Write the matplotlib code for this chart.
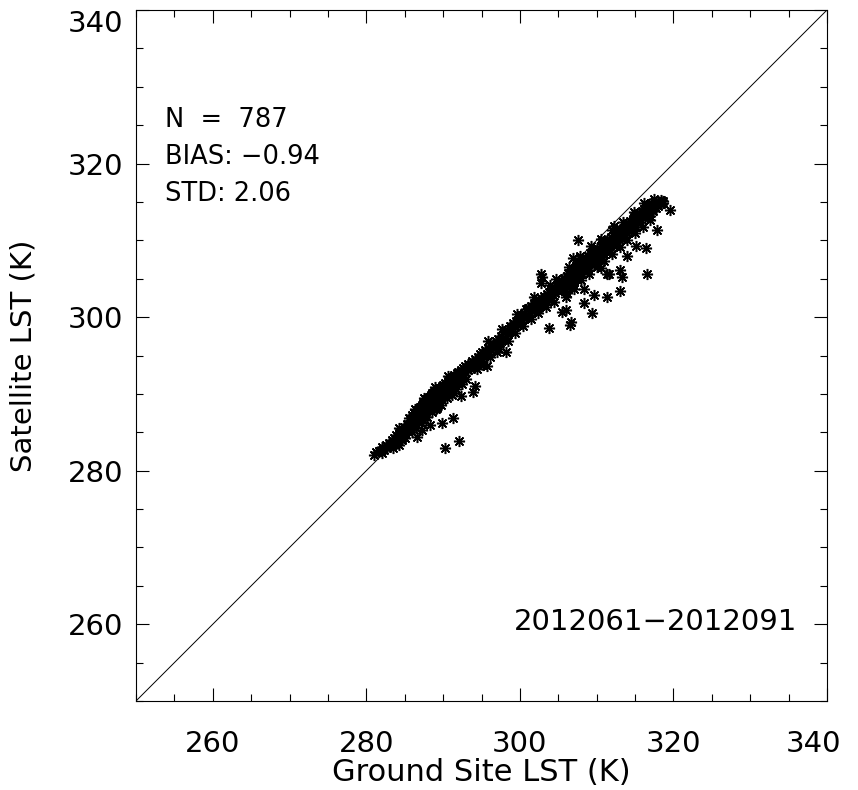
import matplotlib
matplotlib.use('Agg')
from matplotlib import pyplot as plt
from matplotlib import ticker as mticker
from matplotlib import transforms as mtransforms

AXIS_MIN = 250
AXIS_MAX = 340
MAJOR_TICKS = [260, 280, 300, 320, 340]

STATS_LINES = ['N  =  787', 'BIAS: \u22120.94', 'STD: 2.06']
PERIOD_LABEL = '2012061\u22122012091'
X_LABEL = 'Ground Site LST (K)'
Y_LABEL = 'Satellite LST (K)'

# (ground site LST, satellite LST)
lower_band = [
    (281.0, 282.0), (281.3, 282.4), (281.6, 282.5), (281.9, 282.6), (282.0, 282.3),
    (282.1, 283.1), (282.3, 282.7), (282.5, 283.4), (282.7, 283.0), (282.9, 283.6),
    (283.1, 283.3), (283.3, 284.0), (283.4, 283.5), (283.5, 282.9), (283.6, 284.3),
    (283.8, 283.7), (283.9, 284.6), (284.0, 283.6), (284.1, 284.2), (284.2, 284.9),
    (284.4, 284.5), (284.5, 285.2), (284.6, 284.0), (284.7, 284.3), (284.8, 285.1),
    (284.9, 285.7), (285.0, 284.8), (285.2, 285.5), (285.3, 286.1), (285.4, 285.2),
    (285.6, 286.1), (285.7, 286.5), (285.8, 285.7),
    (286.0, 287.2), (286.0, 286.5), (286.2, 286.4), (286.2, 287.5), (286.4, 287.0),
    (286.4, 286.3), (286.6, 287.9), (286.6, 286.9), (286.8, 287.3), (286.8, 288.1),
    (287.0, 287.1), (287.0, 288.3), (287.2, 288.5), (287.2, 287.6), (287.4, 287.8),
    (287.4, 288.8), (287.4, 286.6), (287.6, 288.1), (287.6, 289.0), (287.8, 288.4),
    (287.8, 289.3), (287.8, 287.6), (288.0, 289.4), (288.0, 288.5), (288.2, 288.2),
    (288.2, 289.6), (288.2, 289.0), (288.4, 289.9), (288.4, 288.8), (288.6, 288.6),
    (288.6, 289.5), (288.6, 290.1), (288.8, 289.1), (288.8, 290.2), (289.0, 289.9),
    (289.0, 288.8), (289.0, 290.4), (289.2, 289.3), (289.2, 290.5), (289.4, 290.8),
    (289.4, 289.7), (289.4, 290.2), (289.6, 289.4), (289.6, 290.6), (289.8, 291.0),
    (289.8, 290.0), (289.8, 289.2), (290.0, 290.3), (290.0, 291.2), (290.2, 290.5),
    (290.2, 291.4), (290.2, 289.9), (290.4, 291.1), (290.4, 290.2), (290.6, 291.7),
    (290.6, 290.8), (290.8, 290.6), (290.8, 291.5), (291.0, 291.9), (291.0, 291.0),
    (291.0, 290.4), (291.2, 291.3), (291.2, 292.2), (291.4, 292.4), (291.4, 291.5),
    (291.6, 291.6), (291.6, 292.3), (291.8, 292.7), (291.8, 291.8), (292.0, 292.0),
    (292.0, 292.9), (292.0, 291.4), (292.3, 293.1), (292.3, 292.3), (292.6, 292.5),
    (292.6, 293.4), (292.9, 293.6), (292.9, 292.8), (293.2, 293.1), (293.2, 293.9),
    (284.3, 283.4), (285.1, 284.2), (285.9, 285.0), (286.5, 285.6), (287.1, 286.2),
    (287.9, 287.0), (288.5, 287.6), (289.1, 288.0), (289.7, 288.6), (290.5, 289.4),
    (291.1, 289.8), (291.7, 290.6), (292.4, 291.3), (293.0, 292.0), (288.9, 290.9),
    (287.5, 289.5), (290.7, 292.3), (286.3, 288.0), (285.5, 286.9), (284.3, 285.5),
]

mid_band = [
    (293.5, 293.8), (293.6, 293.2), (293.8, 294.3), (294.0, 293.7), (294.1, 294.6),
    (294.3, 294.0), (294.5, 294.8), (294.6, 294.2), (294.8, 295.2), (295.0, 294.6),
    (295.1, 295.4), (295.3, 294.9), (295.5, 295.7), (295.6, 295.1), (295.8, 296.0),
    (296.0, 295.4), (296.2, 296.3), (296.3, 295.7), (296.5, 296.5), (296.7, 296.0),
    (296.9, 296.9), (297.0, 296.3), (297.2, 297.1), (297.4, 296.6), (297.6, 297.5),
    (297.8, 297.0), (298.0, 298.0), (298.1, 297.3), (298.3, 298.3), (298.5, 297.8),
    (298.7, 298.8), (298.9, 298.2), (299.1, 299.2), (299.3, 298.7), (299.5, 299.5),
    (299.7, 299.0), (299.9, 299.9), (300.0, 299.3), (300.2, 300.3), (300.3, 299.6),
    (300.5, 300.6), (300.6, 299.9), (300.8, 301.0), (301.0, 300.2), (301.1, 301.2),
    (301.3, 300.5), (301.5, 301.5), (301.6, 300.8), (301.8, 301.8), (302.0, 301.0),
    (302.1, 301.9), (302.3, 301.2), (302.5, 302.2), (302.6, 301.5), (302.8, 302.5),
    (303.0, 301.8), (303.1, 302.8), (303.3, 302.1), (303.5, 303.0), (303.6, 302.3),
    (303.8, 303.3), (304.0, 302.6), (304.1, 303.6), (304.3, 302.9), (304.5, 303.8),
    (304.6, 303.1), (304.8, 304.2), (305.0, 303.4), (305.1, 304.4), (305.3, 303.7),
    (294.4, 293.2), (295.2, 293.8), (296.1, 294.8), (297.3, 295.8), (298.4, 296.9),
    (299.4, 297.9), (300.4, 298.8), (301.4, 299.7), (302.4, 300.5), (303.4, 301.3),
    (304.4, 302.0), (295.9, 296.9), (297.7, 298.4), (299.6, 300.4), (301.9, 302.6),
    (303.9, 304.2), (304.7, 305.0),
]

upper_band = [
    (305.5, 304.6), (305.5, 303.5), (305.7, 304.0), (305.7, 305.1), (305.9, 304.8),
    (305.9, 303.7), (306.1, 305.3), (306.1, 304.3), (306.1, 303.2), (306.3, 304.7),
    (306.3, 305.7), (306.5, 305.2), (306.5, 304.1), (306.7, 306.0), (306.7, 304.9),
    (306.9, 305.4), (306.9, 306.3), (306.9, 304.2), (307.1, 305.8), (307.1, 304.7),
    (307.3, 306.6), (307.3, 305.3), (307.5, 306.0), (307.5, 307.0), (307.5, 304.9),
    (307.7, 306.4), (307.7, 305.5), (307.9, 307.2), (307.9, 306.1), (308.1, 306.7),
    (308.1, 305.6), (308.1, 307.5), (308.3, 306.3), (308.3, 307.1), (308.5, 307.7),
    (308.5, 306.8), (308.7, 306.5), (308.7, 307.4), (308.9, 307.9), (308.9, 307.0),
    (308.9, 306.1), (309.1, 307.5), (309.1, 308.3), (309.3, 306.9), (309.3, 307.9),
    (309.5, 308.5), (309.5, 307.3), (309.7, 307.8), (309.7, 308.7), (309.7, 306.8),
    (309.9, 308.2), (309.9, 307.4), (310.1, 309.0), (310.1, 308.0), (310.3, 308.5),
    (310.3, 307.5), (310.5, 309.2), (310.5, 308.3), (310.7, 308.7), (310.7, 309.5),
    (310.7, 307.8), (310.9, 309.0), (310.9, 308.2), (311.1, 309.7), (311.1, 308.6),
    (311.3, 309.2), (311.3, 310.0), (311.5, 308.9), (311.5, 309.6), (311.7, 310.1),
    (311.7, 309.3), (311.7, 308.5), (311.9, 309.8), (311.9, 310.4), (312.1, 309.4),
    (312.1, 310.2), (312.3, 310.6), (312.3, 309.7), (312.5, 310.1), (312.5, 311.0),
    (312.5, 309.2), (312.7, 310.5), (312.7, 309.8), (312.9, 311.1), (312.9, 310.3),
    (313.1, 310.7), (313.1, 311.5), (313.3, 310.2), (313.3, 311.0), (313.5, 311.6),
    (313.5, 310.8), (313.7, 311.2), (313.7, 312.0), (313.7, 310.4), (313.9, 311.5),
    (313.9, 310.9), (314.1, 312.2), (314.1, 311.3), (314.3, 311.7), (314.3, 312.5),
    (314.5, 311.2), (314.5, 312.1), (314.7, 312.8), (314.7, 311.9), (314.9, 312.3),
    (314.9, 313.1), (315.1, 311.8), (315.1, 312.7), (315.3, 313.3), (315.3, 312.5),
    (315.5, 312.9), (315.5, 313.6), (315.7, 312.4), (315.7, 313.2), (315.9, 313.8),
    (315.9, 313.0), (316.1, 313.4), (316.1, 314.1), (316.3, 312.9), (316.3, 313.7),
    (316.5, 314.3), (316.5, 313.5), (316.7, 313.9), (316.7, 314.6), (316.9, 313.2),
    (316.9, 314.0), (317.1, 314.4), (317.1, 314.9), (317.4, 313.8), (317.4, 314.6),
    (317.7, 314.9), (317.7, 314.2), (318.0, 315.1), (318.0, 314.5), (318.4, 314.7),
    (318.4, 315.3), (318.7, 314.9),
    (306.0, 302.6), (307.0, 303.6), (308.0, 304.8), (309.0, 305.6), (310.0, 306.5),
    (311.0, 307.3), (312.0, 308.2), (313.0, 309.1), (314.0, 310.0), (315.0, 310.9),
    (316.0, 311.8), (317.0, 312.6), (306.4, 306.5), (307.8, 308.0), (309.2, 309.2),
    (310.6, 310.2), (312.0, 311.3), (313.4, 312.4), (314.8, 313.7), (316.2, 314.8),
    (317.5, 315.4),
]

outliers = [
    (286.6, 284.4), (287.3, 285.3), (288.3, 286.0), (289.9, 286.2), (291.3, 286.8),
    (289.2, 288.2), (292.3, 289.7), (293.9, 290.2), (294.2, 291.0), (290.3, 282.9),
    (292.1, 283.8), (295.7, 293.6), (297.0, 295.5), (298.2, 295.4), (302.9, 305.2),
    (302.7, 305.6), (302.7, 304.5), (303.8, 298.6), (306.5, 299.0), (306.6, 299.3),
    (305.5, 300.7), (306.0, 300.9), (307.6, 310.1), (306.9, 307.7), (308.8, 307.6),
    (311.4, 305.6), (313.1, 306.2), (313.3, 305.2), (313.0, 303.4), (311.4, 302.6),
    (309.4, 300.6), (308.3, 301.9), (309.6, 302.9), (308.3, 303.6), (316.6, 305.6),
    (316.4, 309.0), (317.9, 311.4), (319.6, 313.9), (318.6, 315.1), (316.2, 314.1),
    (312.3, 311.9), (314.0, 307.9), (315.1, 309.2), (310.5, 306.4), (311.6, 305.6),
]

plt.rcParams['font.family'] = ['DejaVu Sans']

fig = plt.figure(figsize=(8.58, 7.9), dpi=100)
ax = fig.add_axes([136 / 858, 89 / 790, 691 / 858, 691 / 790])

for points in [lower_band, mid_band, upper_band, outliers]:
    ground = [p[0] for p in points]
    satellite = [p[1] for p in points]
    ax.plot(
        ground,
        satellite,
        linestyle='none',
        marker=(8, 2, 0),
        markersize=8,
        markeredgewidth=1.1,
        color='black',
    )

# one-to-one line
ax.plot(
    [AXIS_MIN, AXIS_MAX], [AXIS_MIN, AXIS_MAX], color='black', linewidth=0.7
)

ax.set_xlim(AXIS_MIN, AXIS_MAX)
ax.set_ylim(AXIS_MIN, AXIS_MAX)
for axis in [ax.xaxis, ax.yaxis]:
    axis.set_major_locator(mticker.FixedLocator(MAJOR_TICKS))
    axis.set_minor_locator(mticker.MultipleLocator(5))

ax.tick_params(
    which='both', direction='in', top=True, right=True, width=0.8,
    colors='black',
)
ax.tick_params(which='major', length=9.5)
ax.tick_params(which='minor', length=5)
ax.tick_params(axis='x', which='major', pad=21, labelsize=21)
ax.tick_params(axis='y', which='major', pad=9, labelsize=21)
for spine in ax.spines.values():
    spine.set_linewidth(0.8)

# IDL nudges the end labels inside the window
x_labels = ax.get_xticklabels()
x_labels[-1].set_transform(
    x_labels[-1].get_transform()
    + mtransforms.ScaledTranslation(-0.14, 0, fig.dpi_scale_trans)
)
y_labels = ax.get_yticklabels()
y_labels[-1].set_transform(
    y_labels[-1].get_transform()
    + mtransforms.ScaledTranslation(0, -0.11, fig.dpi_scale_trans)
)

ax.set_xlabel(X_LABEL, fontsize=22, va='center')
ax.xaxis.set_label_coords(0.5, -0.103)
ax.set_ylabel(Y_LABEL, fontsize=21, va='center')
ax.yaxis.set_label_coords(-0.163, 0.5)

for i, line in enumerate(STATS_LINES):
    ax.text(
        0.042, 0.841 - i * 0.0535, line, transform=ax.transAxes,
        fontsize=18.5, ha='left', va='center',
    )
ax.text(
    0.957, 0.114, PERIOD_LABEL, transform=ax.transAxes,
    fontsize=21, ha='right', va='center',
)

plt.savefig('out.png', dpi=100)
